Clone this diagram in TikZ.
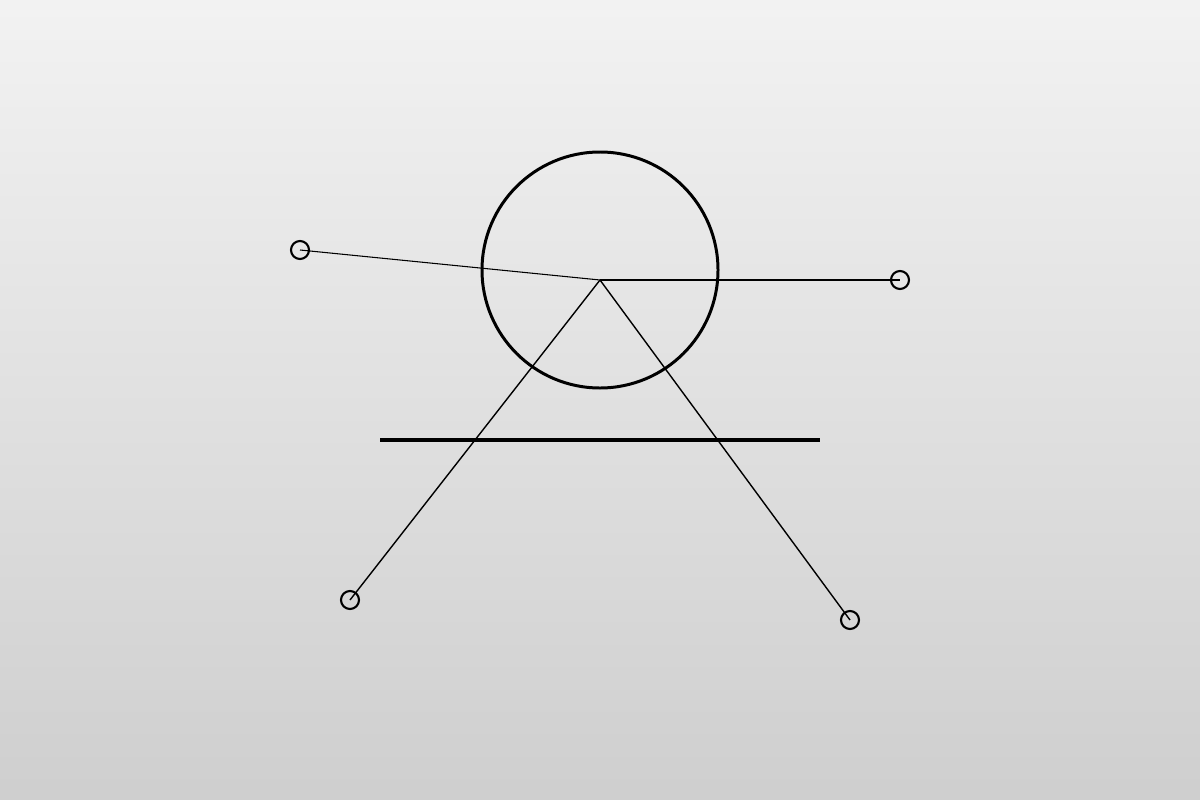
\documentclass[tikz,border=0pt]{standalone}
\usetikzlibrary{positioning}
\tikzset{
  joint/.style={circle,draw,line width=0.6pt,minimum size=0.18cm,inner sep=0pt},
  rod/.style={line width=0.4pt},
}
\begin{document}
\begin{tikzpicture}[x=0.01cm,y=-0.01cm]
    \shade[top color=black!5,bottom color=black!19] (0,0) rectangle (1200,800);
    \useasboundingbox (0,0) rectangle (1200,800);

    \draw[line width=0.85pt] (600,270) circle (118);
    \draw[line width=1.1pt] (380,440) --(820,440);

    \coordinate (hub) at (600,280);
    \path (300,250) node[joint] (ul) {};
    \path (900,280) node[joint] (ur) {};
    \path (350,600) node[joint] (ll) {};
    \path (850,620) node[joint] (lr) {};

    \draw[line width=0.3pt] (ul.center) --(hub);
    \draw[rod] (hub) --(ur.center);
    \draw[rod] (hub) --(ll.center);
    \draw[rod] (hub) --(lr.center);
  \end{tikzpicture}
\end{document}
